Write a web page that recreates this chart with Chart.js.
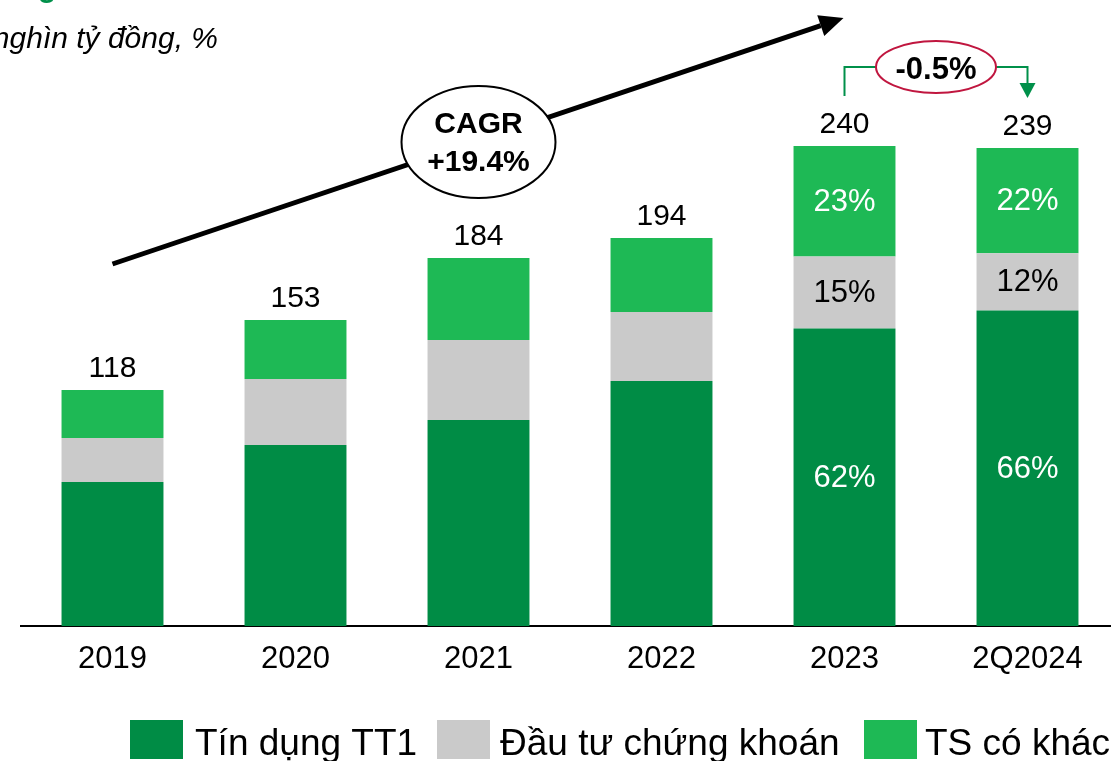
<!DOCTYPE html>
<html>
<head>
<meta charset="utf-8">
<script src="https://cdn.jsdelivr.net/npm/chart.js@4.4.1/dist/chart.umd.min.js"></script>
<style>
  html, body { margin: 0; padding: 0; background: #fff; overflow: hidden; width: 1111px; height: 761px; }
  #wrap { position: absolute; left: 0; top: 0; width: 1119px; height: 761px; }
</style>
</head>
<body>
<div id="wrap"><canvas id="c" width="1119" height="761"></canvas></div>
<script>
// ---- Data ----
const categories = ['2019', '2020', '2021', '2022', '2023', '2Q2024'];
const tinDung = [72, 90.5, 103, 122.5, 148.8, 157.7];
const dauTu = [22, 33, 40, 34.5, 36, 28.7];
const tsKhac = [24, 29.5, 41, 37, 55.2, 52.6];
const totals = [118, 153, 184, 194, 240, 239];
const tinDungPct = ['', '', '', '', '62%', '66%'];
const dauTuPct = ['', '', '', '', '15%', '12%'];
const tsKhacPct = ['', '', '', '', '23%', '22%'];
const seriesNames = ['Tín dụng TT1', 'Đầu tư chứng khoán', 'TS có khác'];
const subtitle = 'nghìn tỷ đồng, %';
const cagrLines = ['CAGR', '+19.4%'];
const changeLabel = '-0.5%';

const COL_DARK = '#008C45';
const COL_GRAY = '#CACACA';
const COL_LIGHT = '#1EB955';
const FONT = '"Liberation Sans", Arial, Helvetica, sans-serif';

const pctSets = [tinDungPct, dauTuPct, tsKhacPct];
const pctColors = ['#ffffff', '#000000', '#ffffff'];

const annotPlugin = {
  id: 'annot',
  afterDatasetsDraw(chart) {
    const ctx = chart.ctx;
    const xs = chart.scales.x, ys = chart.scales.y;
    ctx.save();
    // inner percentage labels
    ctx.textAlign = 'center';
    ctx.textBaseline = 'middle';
    ctx.font = '31px ' + FONT;
    chart.data.datasets.forEach((ds, di) => {
      const meta = chart.getDatasetMeta(di);
      meta.data.forEach((bar, i) => {
        const t = pctSets[di][i];
        if (!t) return;
        ctx.fillStyle = pctColors[di];
        ctx.fillText(t, bar.x, (bar.y + bar.base) / 2 + 1);
      });
    });
    // totals
    ctx.fillStyle = '#000';
    ctx.textBaseline = 'alphabetic';
    ctx.font = '30px ' + FONT;
    totals.forEach((v, i) => {
      ctx.fillText(String(v), xs.getPixelForValue(i), ys.getPixelForValue(v) - 13);
    });

    // CAGR arrow
    const x0 = xs.getPixelForValue(0), y0 = ys.getPixelForValue(181);
    const x1 = xs.getPixelForValue(4) - 1, y1 = ys.getPixelForValue(304);
    const ang = Math.atan2(y1 - y0, x1 - x0);
    const hl = 24, hw = 11;
    const bx = x1 - hl * Math.cos(ang), by = y1 - hl * Math.sin(ang);
    ctx.strokeStyle = '#000';
    ctx.lineWidth = 5;
    ctx.beginPath();
    ctx.moveTo(x0, y0);
    ctx.lineTo(bx, by);
    ctx.stroke();
    ctx.fillStyle = '#000';
    ctx.beginPath();
    ctx.moveTo(x1, y1);
    ctx.lineTo(bx + hw * Math.sin(ang), by - hw * Math.cos(ang));
    ctx.lineTo(bx - hw * Math.sin(ang), by + hw * Math.cos(ang));
    ctx.closePath();
    ctx.fill();

    // CAGR ellipse
    const cx = xs.getPixelForValue(2), cy = ys.getPixelForValue(242);
    ctx.beginPath();
    ctx.ellipse(cx, cy, 77, 56, 0, 0, Math.PI * 2);
    ctx.fillStyle = '#fff';
    ctx.fill();
    ctx.lineWidth = 2;
    ctx.strokeStyle = '#000';
    ctx.stroke();
    ctx.fillStyle = '#000';
    ctx.font = 'bold 30px ' + FONT;
    ctx.textAlign = 'center';
    ctx.fillText(cagrLines[0], cx, cy - 9);
    ctx.fillText(cagrLines[1], cx, cy + 29);

    // -0.5% bracket
    const lx = xs.getPixelForValue(4), rx = xs.getPixelForValue(5);
    const by2 = ys.getPixelForValue(279.5);
    const ecx = (lx + rx) / 2;
    ctx.strokeStyle = '#00904A';
    ctx.lineWidth = 2;
    ctx.beginPath();
    ctx.moveTo(lx, ys.getPixelForValue(265));
    ctx.lineTo(lx, by2);
    ctx.lineTo(rx, by2);
    ctx.lineTo(rx, ys.getPixelForValue(271));
    ctx.stroke();
    ctx.fillStyle = '#00904A';
    ctx.beginPath();
    ctx.moveTo(rx - 8, ys.getPixelForValue(271.5));
    ctx.lineTo(rx + 8, ys.getPixelForValue(271.5));
    ctx.lineTo(rx, ys.getPixelForValue(264));
    ctx.closePath();
    ctx.fill();
    ctx.beginPath();
    ctx.ellipse(ecx, by2, 60, 26, 0, 0, Math.PI * 2);
    ctx.fillStyle = '#fff';
    ctx.fill();
    ctx.strokeStyle = '#C0163F';
    ctx.lineWidth = 2;
    ctx.stroke();
    ctx.fillStyle = '#000';
    ctx.font = 'bold 31px ' + FONT;
    ctx.fillText(changeLabel, ecx, by2 + 12);

    // subtitle and cut title
    ctx.textAlign = 'right';
    ctx.font = 'italic 30px ' + FONT;
    ctx.fillText(subtitle, 218, 48);
    ctx.textAlign = 'left';
    ctx.fillStyle = '#00904A';
    ctx.font = 'bold 30px ' + FONT;
    ctx.fillText('g', 38, -3);

    // legend
    const colors = [COL_DARK, COL_GRAY, COL_LIGHT];
    const boxX = [130, 437, 864];
    const textX = [195, 500, 925];
    ctx.font = '37px ' + FONT;
    ctx.textAlign = 'left';
    for (let k = 0; k < 3; k++) {
      ctx.fillStyle = colors[k];
      ctx.fillRect(boxX[k], 720, 53, 39);
      ctx.fillStyle = '#000';
      ctx.fillText(seriesNames[k], textX[k], 755);
    }
    ctx.restore();
  }
};

new Chart(document.getElementById('c'), {
  type: 'bar',
  data: {
    labels: categories,
    datasets: [
      { label: seriesNames[0], data: tinDung, backgroundColor: COL_DARK },
      { label: seriesNames[1], data: dauTu, backgroundColor: COL_GRAY },
      { label: seriesNames[2], data: tsKhac, backgroundColor: COL_LIGHT }
    ]
  },
  options: {
    responsive: false,
    animation: false,
    layout: { padding: { left: 21, right: 0, top: 26, bottom: 0 } },
    datasets: { bar: { barPercentage: 0.557, categoryPercentage: 1 } },
    plugins: { legend: { display: false }, tooltip: { enabled: false } },
    scales: {
      x: {
        stacked: true,
        grid: { display: false, drawTicks: false },
        border: { display: true, color: '#000', width: 2 },
        ticks: { color: '#000', font: { size: 31, family: FONT }, padding: 15 },
        afterFit(scale) { scale.height = 135; }
      },
      y: {
        stacked: true,
        display: false,
        min: 0,
        max: 300
      }
    }
  },
  plugins: [annotPlugin]
});
</script>
</body>
</html>
